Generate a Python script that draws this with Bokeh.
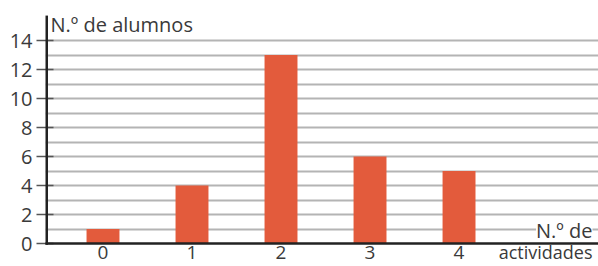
from bokeh.plotting import figure
from bokeh.models import Label, FixedTicker, Range1d
from bokeh.embed import file_html
from bokeh.resources import INLINE

categories = [0, 1, 2, 3, 4]
alumnos = [1, 4, 13, 6, 5]
y_ticks = [0, 2, 4, 6, 8, 10, 12, 14]
grid_levels = list(range(1, 15))

FONT = "Open Sans"
TXT = "#3a3a3a"
X0, X1 = -0.646, 5.567
Y0, Y1 = -1.586, 16.76
AXIS_TOP = 15.72
DIGIT_Y = -0.60
ACT_Y = -0.60

p = figure(width=598, height=266, output_backend="svg", toolbar_location=None,
           x_range=Range1d(X0, X1), y_range=Range1d(Y0, Y1),
           min_border_left=45, min_border_right=0, min_border_top=0, min_border_bottom=0)
p.outline_line_color = None
p.background_fill_color = "white"
p.border_fill_color = "white"

# grid
p.xgrid.visible = False
p.ygrid.ticker = FixedTicker(ticks=grid_levels)
p.ygrid.grid_line_color = "#b4b4b4"
p.ygrid.grid_line_width = 2

p.vbar(x=categories, top=alumnos, bottom=0, width=0.37, fill_color="#E35B3C", line_color=None)

# y axis: ticks + labels from the axis, line drawn as a segment
p.yaxis.ticker = FixedTicker(ticks=y_ticks)
p.yaxis.axis_line_color = None
p.yaxis.major_tick_in = 8
p.yaxis.major_tick_out = 9
p.yaxis.major_tick_line_color = "#555555"
p.yaxis.major_tick_line_width = 1.5
p.yaxis.minor_tick_line_color = None
p.yaxis.major_label_text_font = FONT
p.yaxis.major_label_text_font_size = "20px"
p.yaxis.major_label_text_color = TXT
p.yaxis.major_label_standoff = 4

p.xaxis.visible = False
# baseline and vertical axis line (drawn above label backgrounds)
base = p.segment(x0=[X0], y0=[0], x1=[X1], y1=[0], line_color="#222222", line_width=2.5)
base.level = "overlay"
vax = p.segment(x0=[X0 + 0.014], y0=[-0.09], x1=[X0 + 0.014], y1=[AXIS_TOP],
                line_color="#222222", line_width=2.5)
vax.level = "overlay"

for c in categories:
    p.add_layout(Label(x=c, y=DIGIT_Y, text=str(c), text_align="center", text_baseline="alphabetic",
                       text_font=FONT, text_font_size="19px", text_color=TXT))

p.add_layout(Label(x=X0, y=AXIS_TOP, x_offset=5, y_offset=-9, text="N.º de alumnos",
                   text_align="left", text_baseline="alphabetic",
                   text_font=FONT, text_font_size="20px", text_color=TXT))
p.add_layout(Label(x=X1, y=0.90, x_offset=-6, text="N.º de", text_align="right",
                   text_baseline="alphabetic",
                   text_font=FONT, text_font_size="20px", text_color=TXT,
                   background_fill_color="white"))
p.add_layout(Label(x=X1, y=ACT_Y, x_offset=-6, text="actividades", text_align="right",
                   text_baseline="alphabetic",
                   text_font=FONT, text_font_size="18px", text_color=TXT))

open("out.html", "w").write(file_html(p, INLINE))
